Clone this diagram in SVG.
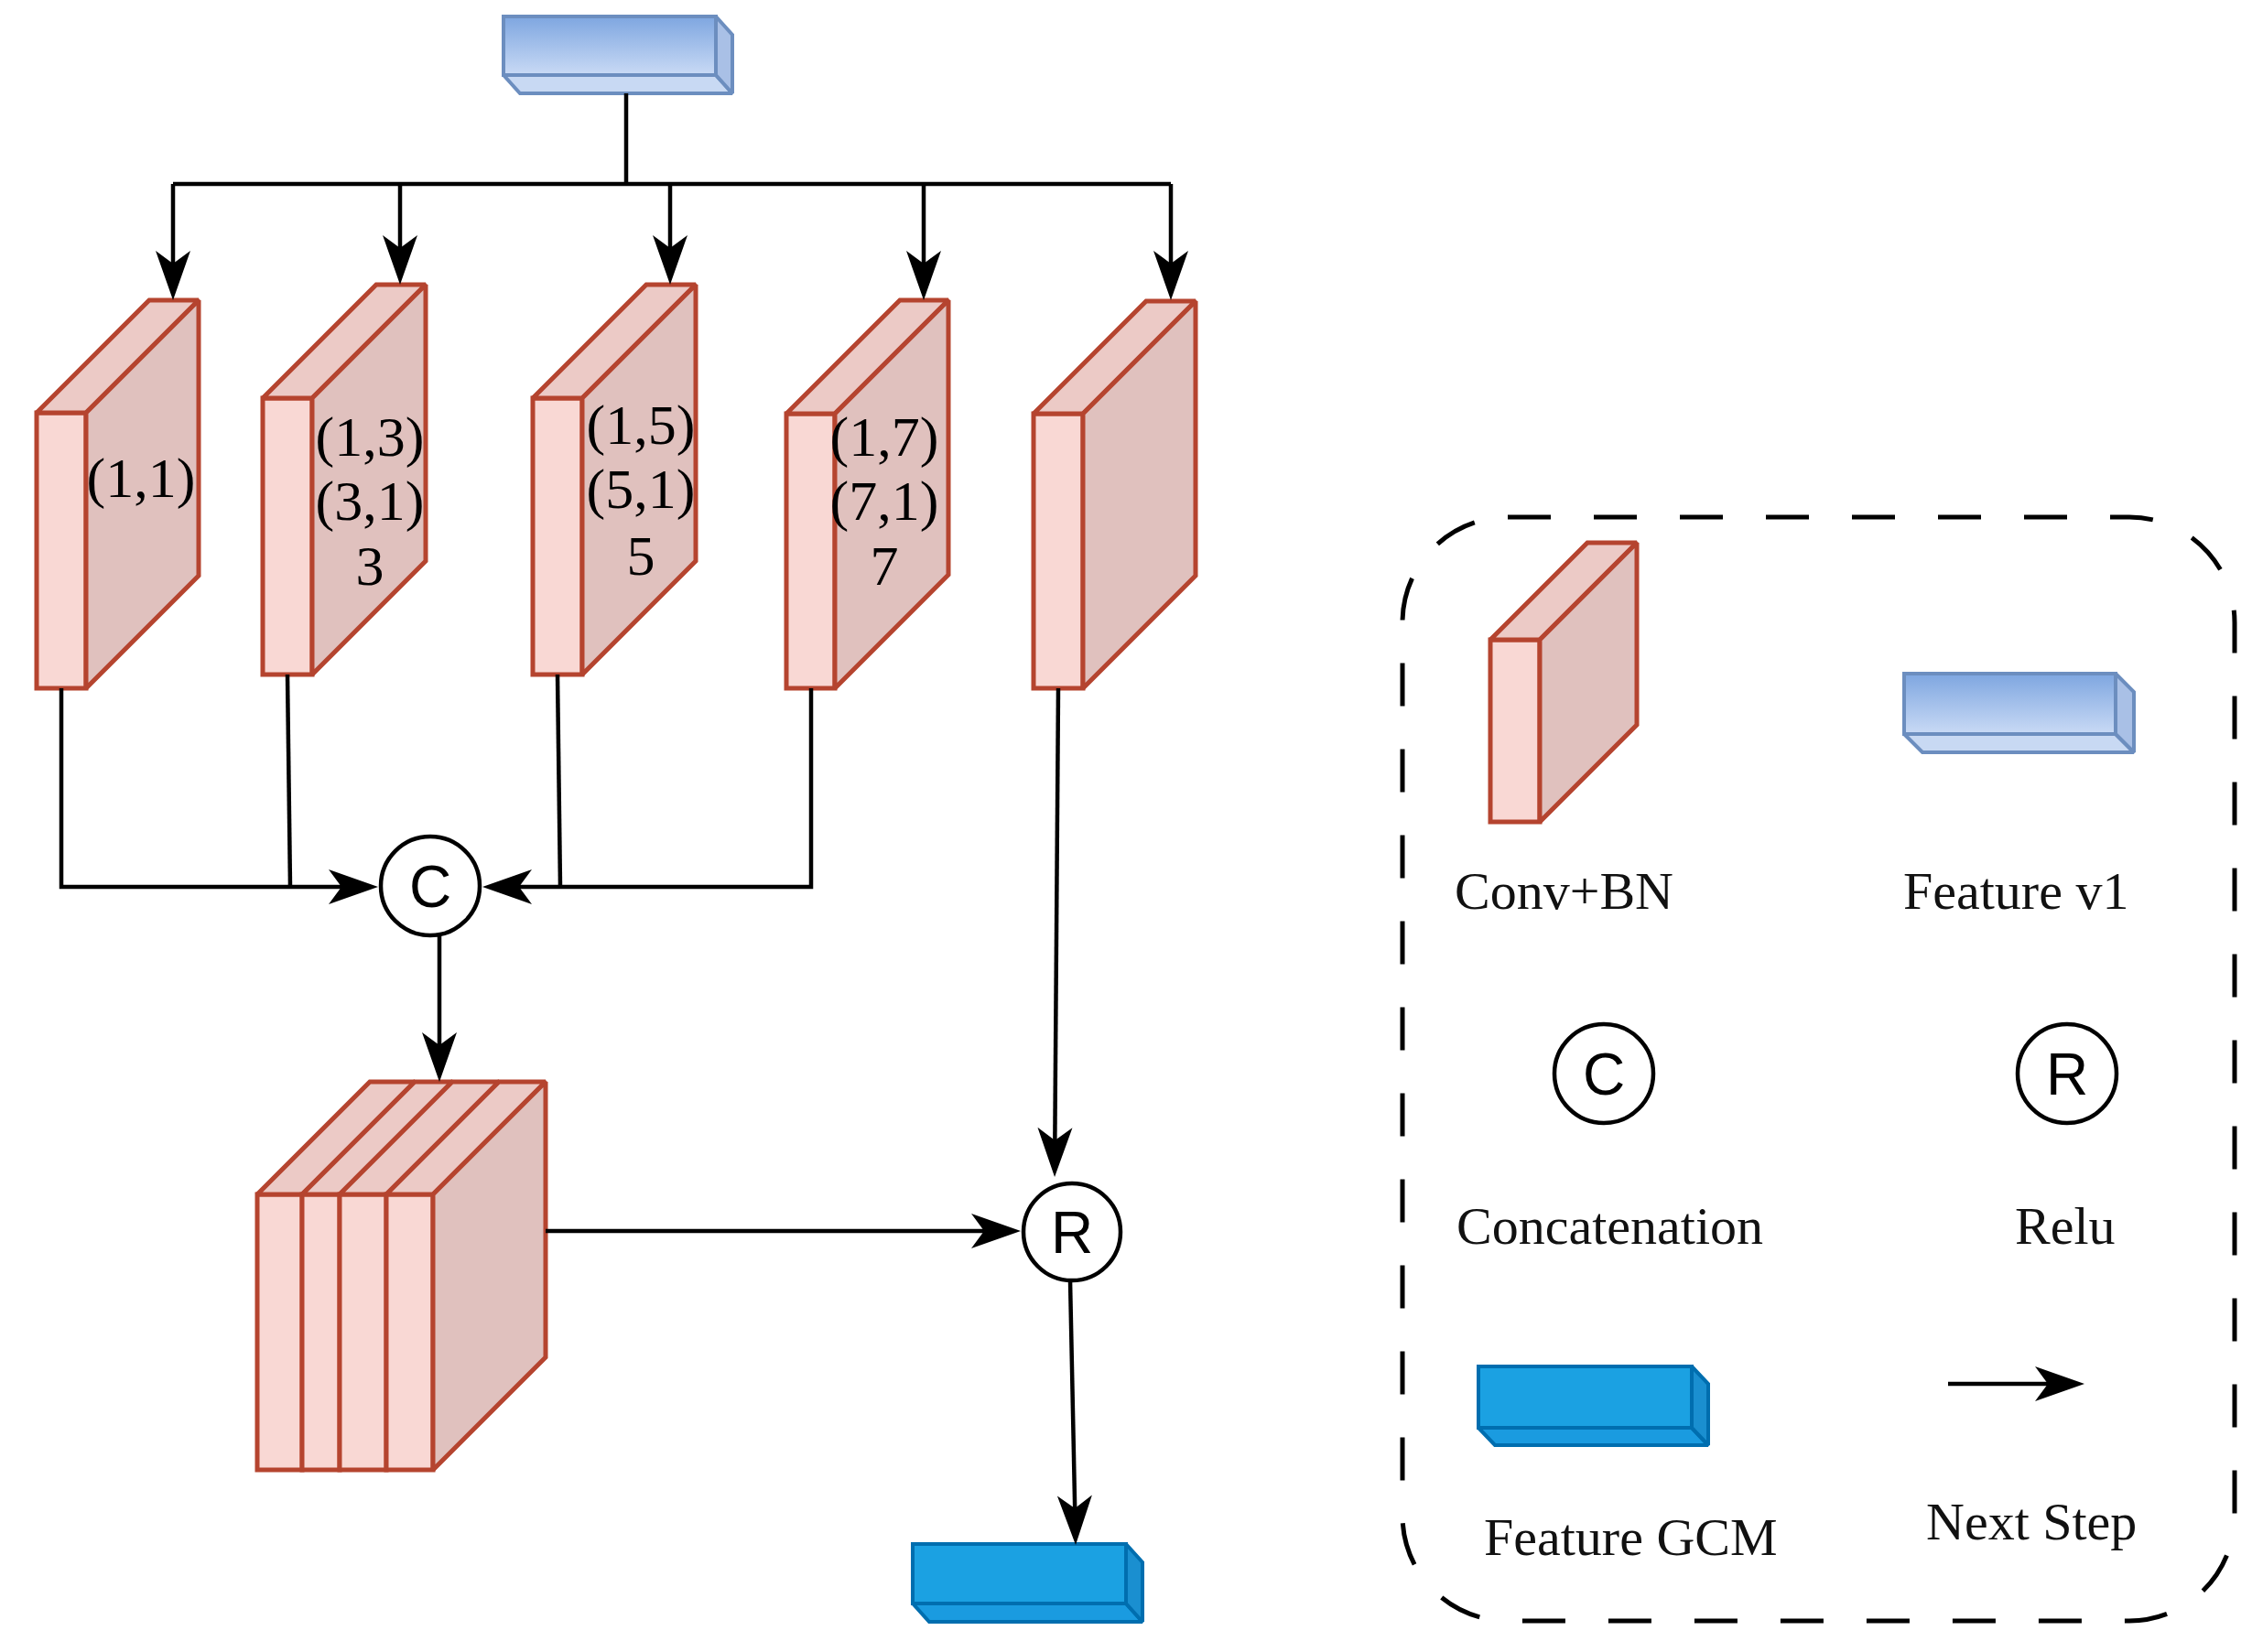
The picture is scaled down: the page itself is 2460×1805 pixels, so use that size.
<svg xmlns="http://www.w3.org/2000/svg" width="2460" height="1805" viewBox="0 0 2460 1805">
<style>
.slab-front{fill:#f9d8d4;stroke:#b5442f;stroke-width:5;stroke-linejoin:miter;stroke-miterlimit:2}
.slab-top{fill:#eccac6;stroke:#b5442f;stroke-width:5;stroke-linejoin:miter;stroke-miterlimit:2}
.slab-side{fill:#e0c1be;stroke:#b5442f;stroke-width:5;stroke-linejoin:miter;stroke-miterlimit:2}
.v1-front{fill:url(#gv1);stroke:#6c8ebf;stroke-width:4}
.v1-bot{fill:#c8d9f3;stroke:#6c8ebf;stroke-width:4;stroke-miterlimit:2}
.v1-side{fill:#a9c0e6;stroke:#6c8ebf;stroke-width:4;stroke-miterlimit:2}
.g-front{fill:#1ba1e2;stroke:#006eaf;stroke-width:4}
.g-bot{fill:#1a9be0;stroke:#006eaf;stroke-width:4;stroke-miterlimit:2}
.g-side{fill:#1a8fd0;stroke:#006eaf;stroke-width:4;stroke-miterlimit:2}
.conn{fill:none;stroke:#000;stroke-width:4.5}
.arr{marker-end:url(#ah)}
.op{fill:#fff;stroke:#000;stroke-width:4.5}
.opt{font-family:"Liberation Sans",Arial,sans-serif;font-size:64px;text-anchor:middle;fill:#000}
.lbl{font-family:"Liberation Serif","Times New Roman",serif;font-size:62px;text-anchor:middle;fill:#000}
.leg{font-family:"Liberation Serif","Times New Roman",serif;font-size:58px;fill:#111}
</style>
<defs>
<linearGradient id="gv1" x1="0" y1="0" x2="0" y2="1">
<stop offset="0" stop-color="#7ea6e0"/>
<stop offset="1" stop-color="#c9daf5"/>
</linearGradient>
<marker id="ah" markerUnits="userSpaceOnUse" viewBox="-40 -22 64 44" refX="0" refY="0" markerWidth="64" markerHeight="44" orient="auto" overflow="visible">
<path d="M20,0 L-34,-19 L-20,0 L-34,19 Z" fill="#000"/>
</marker>
</defs>

<g id="feature-v1-input">
<polygon class="v1-bot" points="550,82 782,82 800,102 568,102"/>
<polygon class="v1-side" points="782,18 800,38 800,102 782,82"/>
<rect class="v1-front" x="550" y="18" width="232" height="64"/>
</g>

<g id="conv-1x1">
<rect class="slab-front" x="40" y="451" width="54" height="301"/>
<polygon class="slab-top" points="40,451 163,328 217,328 94,451"/>
<polygon class="slab-side" points="94,451 217,328 217,629 94,752"/>
<text class="lbl" x="154" y="543">(1,1)</text>
</g>

<g id="conv-3">
<rect class="slab-front" x="287" y="435" width="54" height="302"/>
<polygon class="slab-top" points="287,435 411,311 465,311 341,435"/>
<polygon class="slab-side" points="341,435 465,311 465,613 341,737"/>
<text class="lbl" x="404" y="498">(1,3)</text>
<text class="lbl" x="404" y="568">(3,1)</text>
<text class="lbl" x="404" y="639">3</text>
</g>

<g id="conv-5">
<rect class="slab-front" x="582" y="435" width="54" height="302"/>
<polygon class="slab-top" points="582,435 706,311 760,311 636,435"/>
<polygon class="slab-side" points="636,435 760,311 760,613 636,737"/>
<text class="lbl" x="700" y="485">(1,5)</text>
<text class="lbl" x="700" y="555">(5,1)</text>
<text class="lbl" x="700" y="628">5</text>
</g>

<g id="conv-7">
<rect class="slab-front" x="859" y="452" width="53" height="300"/>
<polygon class="slab-top" points="859,452 983,328 1036,328 912,452"/>
<polygon class="slab-side" points="912,452 1036,328 1036,628 912,752"/>
<text class="lbl" x="966" y="498">(1,7)</text>
<text class="lbl" x="966" y="568">(7,1)</text>
<text class="lbl" x="966" y="639">7</text>
</g>

<g id="conv-shortcut">
<rect class="slab-front" x="1129" y="452" width="54" height="300"/>
<polygon class="slab-top" points="1129,452 1252,329 1306,329 1183,452"/>
<polygon class="slab-side" points="1183,452 1306,329 1306,629 1183,752"/>
</g>

<g id="concat-op">
<circle class="op" cx="470" cy="968" r="54"/>
<text class="opt" x="470" y="991">C</text>
</g>

<g id="concat-stack">
<rect class="slab-front" x="281" y="1305" width="49" height="301"/>
<polygon class="slab-top" points="281,1305 404,1182 453,1182 330,1305"/>
<rect class="slab-front" x="330" y="1305" width="41" height="301"/>
<polygon class="slab-top" points="330,1305 453,1182 494,1182 371,1305"/>
<rect class="slab-front" x="371" y="1305" width="51" height="301"/>
<polygon class="slab-top" points="371,1305 494,1182 545,1182 422,1305"/>
<rect class="slab-front" x="422" y="1305" width="51" height="301"/>
<polygon class="slab-top" points="422,1305 545,1182 596,1182 473,1305"/>
<polygon class="slab-side" points="473,1305 596,1182 596,1483 473,1606"/>
</g>

<g id="relu-op">
<circle class="op" cx="1171" cy="1346" r="53"/>
<text class="opt" x="1171" y="1369">R</text>
</g>

<g id="feature-gcm-output">
<polygon class="g-bot" points="997,1752 1230,1752 1248,1772 1015,1772"/>
<polygon class="g-side" points="1230,1687 1248,1707 1248,1772 1230,1752"/>
<rect class="g-front" x="997" y="1687" width="233" height="65"/>
</g>

<g id="connectors">
<path class="conn" d="M684 102 V201"/>
<path class="conn" d="M189 201 H1279"/>
<path class="conn arr" d="M189 201 V308"/>
<path class="conn arr" d="M437 201 V291"/>
<path class="conn arr" d="M732 201 V291"/>
<path class="conn arr" d="M1009 201 V308"/>
<path class="conn arr" d="M1279 201 V308"/>
<path class="conn arr" d="M67 752 V969 H393"/>
<path class="conn" d="M314 737 L317 969"/>
<path class="conn" d="M609 737 L612 969"/>
<path class="conn arr" d="M886 752 V969 H547"/>
<path class="conn arr" d="M480 1022 V1162"/>
<path class="conn arr" d="M596 1345 H1095"/>
<path class="conn arr" d="M1156 752 L1152.2 1266"/>
<path class="conn arr" d="M1169 1399 L1174.6 1668"/>
</g>

<g id="legend">
<rect x="1532" y="565" width="909" height="1206" rx="115" ry="115" fill="none" stroke="#000" stroke-width="5" stroke-dasharray="47 47"/>
<g id="legend-conv">
<rect class="slab-front" x="1628" y="699" width="54" height="199"/>
<polygon class="slab-top" points="1628,699 1734,593 1788,593 1682,699"/>
<polygon class="slab-side" points="1682,699 1788,593 1788,792 1682,898"/>
<text class="leg" x="1589" y="993">Conv+BN</text>
</g>
<g id="legend-v1">
<polygon class="v1-bot" points="2080,802 2311,802 2331,822 2100,822"/>
<polygon class="v1-side" points="2311,736 2331,756 2331,822 2311,802"/>
<rect class="v1-front" x="2080" y="736" width="231" height="66"/>
<text class="leg" x="2079" y="993">Feature v1</text>
</g>
<g id="legend-concat">
<circle class="op" cx="1752" cy="1173" r="54"/>
<text class="opt" x="1752" y="1196">C</text>
<text class="leg" x="1591" y="1359">Concatenation</text>
</g>
<g id="legend-relu">
<circle class="op" cx="2258" cy="1173" r="54"/>
<text class="opt" x="2258" y="1196">R</text>
<text class="leg" x="2201" y="1359">Relu</text>
</g>
<g id="legend-gcm">
<polygon class="g-bot" points="1615,1560 1848,1560 1866,1579 1633,1579"/>
<polygon class="g-side" points="1848,1493 1866,1512 1866,1579 1848,1560"/>
<rect class="g-front" x="1615" y="1493" width="233" height="67"/>
<text class="leg" x="1621" y="1699">Feature GCM</text>
</g>
<g id="legend-next">
<path class="conn arr" d="M2128 1512 H2257"/>
<text class="leg" x="2104" y="1682">Next Step</text>
</g>
</g>
</svg>
